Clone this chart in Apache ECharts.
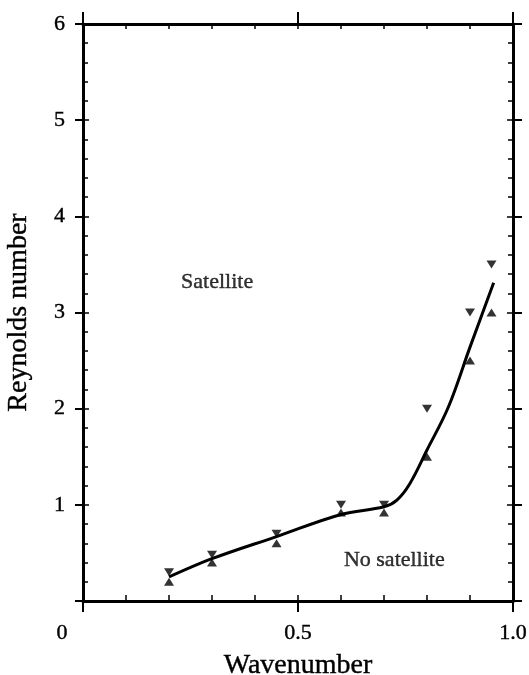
<!DOCTYPE html>
<html>
<head>
<meta charset="utf-8">
<script src="https://cdn.jsdelivr.net/npm/echarts@6/dist/echarts.min.js"></script>
<style>
  html, body { margin: 0; padding: 0; background: #fff; }
  #chart { width: 529px; height: 675px; }
</style>
</head>
<body>
<div id="chart"></div>
<script>
// Wavenumbers where the onset of satellite drops was measured
const waveNumbers = [0.2, 0.3, 0.45, 0.6, 0.7, 0.8, 0.9, 0.95];
// Lowest Reynolds number with a satellite (downward triangles)
const reSatellite = [0.3, 0.48, 0.7, 1.0, 1.0, 2.0, 3.0, 3.5];
// Highest Reynolds number without a satellite (upward triangles)
const reNoSatellite = [0.2, 0.4, 0.6, 0.92, 0.92, 1.5, 2.5, 3.0];
// Boundary curve between the two regimes
const curveX = [0.2, 0.3, 0.45, 0.6, 0.7, 0.73, 0.76, 0.8, 0.85, 0.9, 0.955];
const curveY = [0.25, 0.44, 0.67, 0.9, 0.98, 1.05, 1.22, 1.57, 2.02, 2.64, 3.31];
// Region annotations
const regionLabels = ['Satellite', 'No satellite'];
const regionX = [0.312, 0.724];
const regionY = [3.31, 0.42];
// Axis tick labels
const xTickLabels = { 0: '0', 0.5: '0.5', 1: '1.0' };

const INK = '#000';
const FONT = 'Liberation Serif';

const pair = (xs, ys) => xs.map((x, i) => [x, ys[i]]);

// Slight outline thickens the serif glyphs
const heavy = { textBorderColor: INK, textBorderWidth: 0.4 };
const lineStyle = { color: INK, width: 3 };
const xBase = { type: 'value', min: 0, max: 1, splitLine: { show: false } };
const yBase = { type: 'value', min: 0, max: 6, splitLine: { show: false } };

const chart = echarts.init(document.getElementById('chart'), null, { renderer: 'canvas' });
chart.setOption({
  animation: false,
  backgroundColor: '#fff',
  grid: { left: 83, right: 16, top: 24, bottom: 74, containLabel: false, outerBoundsMode: 'none' },
  xAxis: [
    Object.assign({}, xBase, {
      position: 'bottom', interval: 0.1,
      axisLine: { onZero: false, lineStyle },
      axisTick: { inside: true, length: 6, lineStyle: { color: INK, width: 1.5 } },
      axisLabel: Object.assign({
        margin: 21, color: INK, fontFamily: FONT, fontSize: 22,
        formatter: v => {
          const key = Math.round(v * 10) / 10;
          if (key === 0) return '{z|0}';
          return xTickLabels[key] || '';
        },
        rich: { z: Object.assign({ fontFamily: FONT, fontSize: 22, color: INK, padding: [0, 42, 0, 0] }, heavy) }
      }, heavy),
      name: 'Wavenumber', nameLocation: 'middle', nameGap: 51,
      nameTextStyle: Object.assign({ color: INK, fontFamily: FONT, fontSize: 28 }, heavy)
    }),
    Object.assign({}, xBase, {
      position: 'bottom', interval: 0.5,
      axisLine: { show: false, onZero: false },
      axisTick: { inside: false, length: 11, lineStyle: { color: INK, width: 2 } },
      axisLabel: { show: false }
    }),
    Object.assign({}, xBase, {
      position: 'top', interval: 0.1,
      axisLine: { onZero: false, lineStyle },
      axisTick: { inside: true, length: 5, lineStyle: { color: INK, width: 1.5 } },
      axisLabel: { show: false }
    }),
    Object.assign({}, xBase, {
      position: 'top', interval: 0.5,
      axisLine: { show: false, onZero: false },
      axisTick: { inside: false, length: 12, lineStyle: { color: INK, width: 2 } },
      axisLabel: { show: false }
    })
  ],
  yAxis: [
    Object.assign({}, yBase, {
      position: 'left', interval: 1,
      axisLine: { onZero: false, lineStyle },
      axisTick: { inside: true, length: 6, lineStyle: { color: INK, width: 1.5 } },
      minorTick: { show: true, splitNumber: 5, length: 5, lineStyle: { color: INK, width: 1.5 } },
      axisLabel: Object.assign({
        margin: 18, color: INK, fontFamily: FONT, fontSize: 22,
        formatter: v => (v === 0 ? '' : String(v))
      }, heavy),
      name: 'Reynolds number', nameLocation: 'middle', nameGap: 50,
      nameTextStyle: Object.assign({ color: INK, fontFamily: FONT, fontSize: 28 }, heavy)
    }),
    Object.assign({}, yBase, {
      position: 'left', interval: 1,
      axisLine: { show: false, onZero: false },
      axisTick: { inside: false, length: 8, lineStyle: { color: INK, width: 2 } },
      axisLabel: { show: false }
    }),
    Object.assign({}, yBase, {
      position: 'right', interval: 1,
      axisLine: { onZero: false, lineStyle },
      axisTick: { inside: true, length: 6, lineStyle: { color: INK, width: 1.5 } },
      minorTick: { show: true, splitNumber: 5, length: 5, lineStyle: { color: INK, width: 1.5 } },
      axisLabel: { show: false }
    }),
    Object.assign({}, yBase, {
      position: 'right', interval: 1,
      axisLine: { show: false, onZero: false },
      axisTick: { inside: false, length: 9, lineStyle: { color: INK, width: 2 } },
      axisLabel: { show: false }
    })
  ],
  series: [
    {
      name: 'boundary', type: 'line', smooth: 0.35,
      data: pair(curveX, curveY),
      symbol: 'none',
      lineStyle: { color: INK, width: 3 },
      z: 3
    },
    {
      name: 'satellite', type: 'scatter',
      data: pair(waveNumbers, reSatellite),
      symbol: 'triangle', symbolRotate: 180, symbolSize: [10, 8],
      itemStyle: { color: INK },
      z: 4
    },
    {
      name: 'no satellite', type: 'scatter',
      data: pair(waveNumbers, reNoSatellite),
      symbol: 'triangle', symbolSize: [10, 8],
      itemStyle: { color: INK },
      z: 4
    },
    {
      name: 'regions', type: 'scatter',
      data: regionLabels.map((t, i) => ({ name: t, value: [regionX[i], regionY[i]] })),
      symbolSize: 0,
      label: Object.assign({
        show: true, position: 'inside', formatter: p => p.name,
        color: INK, fontFamily: FONT, fontSize: 22
      }, heavy),
      z: 5
    }
  ]
});
</script>
</body>
</html>
